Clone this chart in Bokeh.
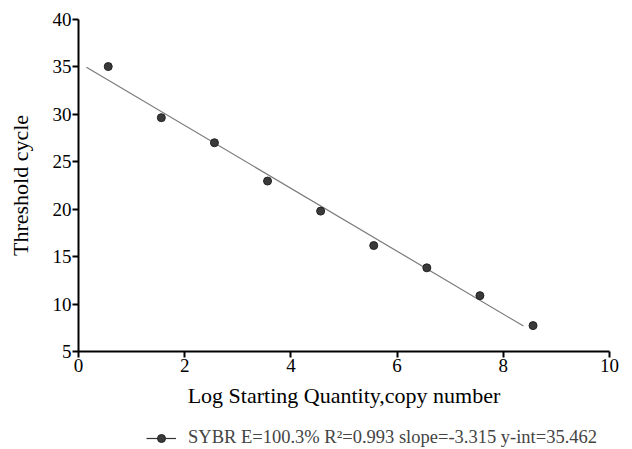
from bokeh.plotting import figure
from bokeh.layouts import column
from bokeh.models import Range1d, FixedTicker, Legend, LegendItem
from bokeh.embed import file_html
from bokeh.resources import INLINE

log_qty = [0.56, 1.56, 2.56, 3.56, 4.56, 5.56, 6.56, 7.56, 8.56]
ct = [35.04, 29.65, 27.01, 22.97, 19.8, 16.17, 13.82, 10.89, 7.73]
slope = -3.315
yint = 35.462
fit_x = [0.15, 8.38]
fit_y = [yint + slope * v for v in fit_x]
x_ticks = [0, 2, 4, 6, 8, 10]
y_ticks = [5, 10, 15, 20, 25, 30, 35, 40]
legend_label = "SYBR E=100.3% R\u00b2=0.993 slope=-3.315 y-int=35.462"

FONT = "Liberation Serif"
PT_FILL = "#3a3a3a"
PT_LINE = "#222222"
FIT_COLOR = "#7a7a7a"

p = figure(width=632, height=416, output_backend="svg", toolbar_location=None,
           x_range=Range1d(0, 10), y_range=Range1d(5, 40),
           min_border_left=78, min_border_top=19, min_border_right=23, min_border_bottom=65)
p.outline_line_color = None
p.background_fill_color = "white"
p.border_fill_color = "white"
p.xgrid.grid_line_color = None
p.ygrid.grid_line_color = None

p.line(fit_x, fit_y, line_color=FIT_COLOR, line_width=1.2)
p.scatter(log_qty, ct, size=8, fill_color=PT_FILL, line_color=PT_LINE)

for ax in (p.xaxis[0], p.yaxis[0]):
    ax.axis_line_width = 2
    ax.axis_line_color = "black"
    ax.major_tick_line_width = 2
    ax.major_tick_line_color = "black"
    ax.major_tick_out = 6
    ax.major_tick_in = 0
    ax.minor_tick_line_color = None
    ax.major_label_text_font = FONT
    ax.major_label_text_font_size = "19px"
    ax.major_label_text_color = "black"
    ax.axis_label_text_font = FONT
    ax.axis_label_text_font_size = "22px"
    ax.axis_label_text_font_style = "normal"
    ax.axis_label_text_color = "black"

p.xaxis[0].ticker = FixedTicker(ticks=x_ticks)
p.yaxis[0].ticker = FixedTicker(ticks=y_ticks)
p.xaxis[0].major_label_standoff = 1
p.yaxis[0].major_label_standoff = 1
p.xaxis[0].axis_label = "Log Starting Quantity,copy number"
p.yaxis[0].axis_label = "Threshold cycle"
p.xaxis[0].axis_label_standoff = 8
p.yaxis[0].axis_label_standoff = 17

# legend strip below the chart; its ranges keep the series out of view,
# so only the legend entry shows
p2 = figure(width=632, height=33, output_backend="svg", toolbar_location=None,
            x_range=Range1d(20, 21), y_range=Range1d(100, 101),
            min_border_left=78, min_border_right=23,
            min_border_top=0, min_border_bottom=0)
p2.axis.visible = False
p2.grid.visible = False
p2.outline_line_color = None
p2.border_fill_color = "white"
lr = p2.line(fit_x, fit_y, line_color="#333333", line_width=1.2)
sr = p2.scatter(log_qty, ct, size=7, fill_color=PT_FILL, line_color=PT_LINE)
legend = Legend(items=[LegendItem(label=legend_label, renderers=[lr, sr])],
                location=(68, 1), orientation="horizontal",
                label_text_font=FONT, label_text_font_size="18.5px",
                border_line_color=None, background_fill_alpha=0,
                glyph_width=30, margin=0, padding=0, spacing=0, label_standoff=12)
p2.add_layout(legend, "center")

layout = column(p, p2, spacing=0)
open("out.html", "w").write(file_html(layout, INLINE))
